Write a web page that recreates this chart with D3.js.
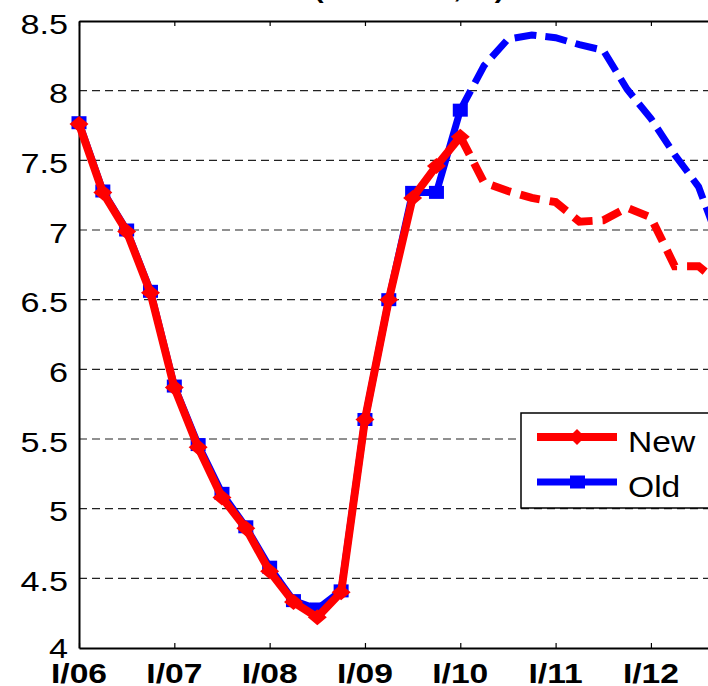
<!DOCTYPE html>
<html>
<head>
<meta charset="utf-8">
<script src="https://cdn.jsdelivr.net/npm/d3@7"></script>
<style>
  html, body { margin: 0; padding: 0; background: #fff; }
  svg { display: block; }
  text { font-family: "Liberation Sans", Arial, Helvetica, sans-serif; fill: #000; }
</style>
</head>
<body>
<svg id="chart" width="708" height="686"></svg>
<script>
// Unemployment rate, quarterly (index 0 = I/06)
const yearTickLabels = ["I/06", "I/07", "I/08", "I/09", "I/10", "I/11", "I/12"];
const yTickValues = [4, 4.5, 5, 5.5, 6, 6.5, 7, 7.5, 8, 8.5];

// New forecast: outturns I/06–I/10, projection I/10–IV/12
const newActual = [7.76, 7.27, 6.99, 6.55, 5.87, 5.44, 5.08, 4.86, 4.55, 4.33, 4.22, 4.40, 5.64, 6.50, 7.23, 7.46, 7.67];
const newForecast = [7.67, 7.34, 7.28, 7.23, 7.20, 7.06, 7.07, 7.16, 7.09, 6.74, 6.74, 6.60];

// Old forecast: outturns I/06–I/10, projection I/10–IV/12
const oldActual = [7.77, 7.28, 7.00, 6.56, 5.88, 5.46, 5.11, 4.87, 4.58, 4.34, 4.28, 4.41, 5.64, 6.50, 7.27, 7.27, 7.86];
const oldForecast = [7.86, 8.18, 8.37, 8.40, 8.38, 8.33, 8.29, 8.01, 7.80, 7.54, 7.31, 6.85];

const seriesNames = ["New", "Old"];
const titleText = "(ILO basis, %)";

const svg = d3.select("#chart");
const stretch = 1.2; // horizontal text stretch

const plotLeft = 79, plotTop = 21, plotBottom = 648, quarterW = 23.83, nQuarters = 30;
const x = d3.scaleLinear().domain([0, nQuarters]).range([plotLeft, plotLeft + nQuarters * quarterW]);
const y = d3.scaleLinear().domain([4, 8.5]).range([plotBottom, plotTop]);
const plotRight = x(nQuarters);

// title (mostly above the visible area)
svg.append("text")
  .attr("transform", `translate(314,-2) scale(${stretch},1)`)
  .attr("font-size", 24).attr("font-weight", "bold")
  .text(titleText);

// horizontal dashed grid
svg.append("g").selectAll("line")
  .data(yTickValues.filter(v => v > 4 && v < 8.5))
  .join("line")
  .attr("x1", plotLeft).attr("x2", plotRight)
  .attr("y1", d => y(d)).attr("y2", d => y(d))
  .attr("stroke", "#222").attr("stroke-width", 1.2)
  .attr("stroke-dasharray", "8,5");

// axes frame
const yearTicks = yearTickLabels.map((d, i) => i * 4);
svg.append("g").attr("transform", `translate(0,${plotBottom})`)
  .call(d3.axisBottom(x).tickValues(yearTicks).tickSize(-5).tickSizeOuter(0).tickFormat(""))
  .call(g => g.select(".domain").attr("stroke", "#000").attr("stroke-width", 2))
  .call(g => g.selectAll(".tick line").attr("stroke", "#000").attr("stroke-width", 1.2));
svg.append("g").attr("transform", `translate(0,${plotTop})`)
  .call(d3.axisTop(x).tickValues(yearTicks).tickSize(-5).tickSizeOuter(0).tickFormat(""))
  .call(g => g.select(".domain").attr("stroke", "#000").attr("stroke-width", 2))
  .call(g => g.selectAll(".tick line").attr("stroke", "#000").attr("stroke-width", 1.2));
svg.append("g").attr("transform", `translate(${plotLeft},0)`)
  .call(d3.axisLeft(y).tickValues([]).tickSize(0).tickSizeOuter(0))
  .call(g => g.select(".domain").attr("stroke", "#000").attr("stroke-width", 2));

// y tick labels
svg.append("g").selectAll("text")
  .data(yTickValues)
  .join("text")
  .attr("transform", d => `translate(68,${y(d) + (d === 4 ? 10 : 12.5)}) scale(${stretch},1)`)
  .attr("text-anchor", "end")
  .attr("font-size", 28.5)
  .text(d => d3.format("")(d));

// x tick labels
svg.append("g").selectAll("text")
  .data(yearTickLabels)
  .join("text")
  .attr("transform", (d, i) => `translate(${x(i * 4)},683) scale(${stretch},1)`)
  .attr("text-anchor", "middle")
  .attr("font-size", 28).attr("font-weight", "bold")
  .text(d => d);

const line = d3.line().x(d => x(d[0])).y(d => y(d[1]));
const actualPts = arr => arr.map((v, i) => [i, v]);
const forecastPts = arr => arr.map((v, i) => [i + 16, v]);

const plot = svg.append("g");
const diamond = (w, h) => `M0,${-h}L${w},0L0,${h}L${-w},0Z`;

// Old series (drawn first)
plot.append("path").datum(forecastPts(oldForecast))
  .attr("d", line).attr("fill", "none").attr("stroke", "#0000ff")
  .attr("stroke-width", 7).attr("stroke-dasharray", "22,9");
plot.append("path").datum(actualPts(oldActual))
  .attr("d", line).attr("fill", "none").attr("stroke", "#0000ff")
  .attr("stroke-width", 7).attr("stroke-linejoin", "round");
plot.append("g").selectAll("rect")
  .data(actualPts(oldActual)).join("rect")
  .attr("x", d => x(d[0]) - 7.5).attr("y", d => y(d[1]) - 6.5)
  .attr("width", 15).attr("height", 13).attr("fill", "#0000ff");

// New series
plot.append("path").datum(forecastPts(newForecast))
  .attr("d", line).attr("fill", "none").attr("stroke", "#ff0000")
  .attr("stroke-width", 8).attr("stroke-dasharray", "20,10");
plot.append("path").datum(actualPts(newActual))
  .attr("d", line).attr("fill", "none").attr("stroke", "#ff0000")
  .attr("stroke-width", 8).attr("stroke-linejoin", "round");
plot.append("g").selectAll("path")
  .data(actualPts(newActual)).join("path")
  .attr("transform", d => `translate(${x(d[0])},${y(d[1])})`)
  .attr("d", diamond(9.5, 8)).attr("fill", "#ff0000");

// legend
const lg = svg.append("g").attr("transform", "translate(521,413)");
lg.append("rect").attr("x", 0).attr("y", 0).attr("width", 200).attr("height", 95)
  .attr("fill", "#fff").attr("stroke", "#000").attr("stroke-width", 1.5);
const legendItems = [
  { name: seriesNames[0], color: "#ff0000", marker: "diamond", yy: 24, width: 8 },
  { name: seriesNames[1], color: "#0000ff", marker: "square", yy: 69, width: 7 }
];
legendItems.forEach(it => {
  lg.append("line").attr("x1", 16).attr("x2", 96).attr("y1", it.yy).attr("y2", it.yy)
    .attr("stroke", it.color).attr("stroke-width", it.width);
  if (it.marker === "diamond") {
    lg.append("path").attr("transform", `translate(56,${it.yy})`)
      .attr("d", diamond(8, 8)).attr("fill", it.color);
  } else {
    lg.append("rect").attr("x", 49).attr("y", it.yy - 6.5).attr("width", 15).attr("height", 13)
      .attr("fill", it.color);
  }
  lg.append("text")
    .attr("transform", `translate(107,${it.yy + 15}) scale(1.12,1)`)
    .attr("font-size", 30)
    .text(it.name);
});
</script>
</body>
</html>
